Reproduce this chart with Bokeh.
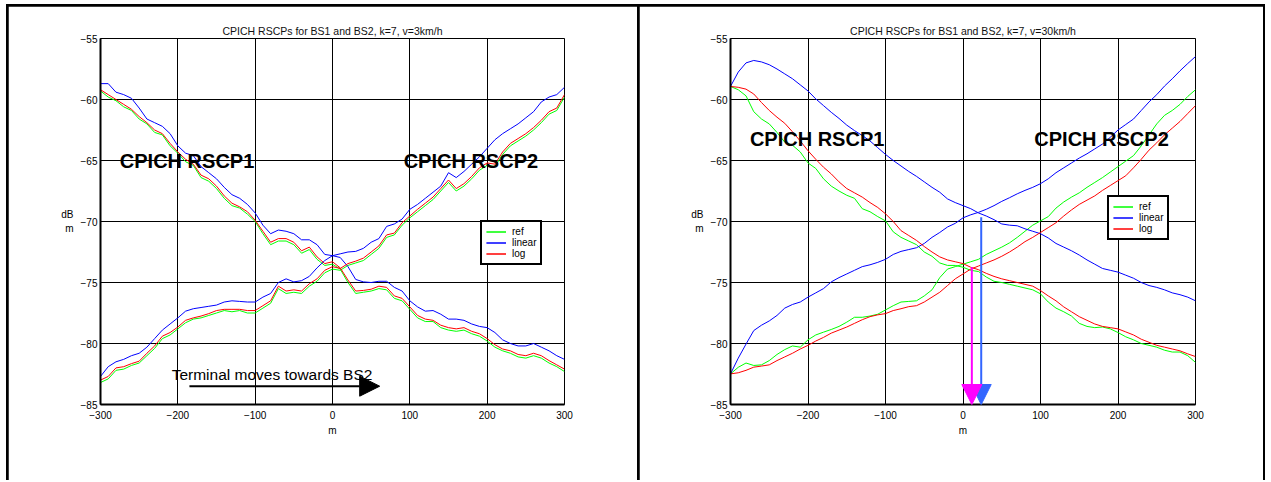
from bokeh.plotting import figure
from bokeh.layouts import row
from bokeh.models import FixedTicker, Label, Arrow, NormalHead, Legend, LegendItem, Range1d
from bokeh.embed import file_html
from bokeh.resources import INLINE

# ---------------- data ----------------
POS_M = list(range(-300, 301, 10))          # terminal position, m
X_TICKS = [-300, -200, -100, 0, 100, 200, 300]
Y_TICKS = [-85, -80, -75, -70, -65, -60, -55]

TITLE_3 = "CPICH RSCPs for BS1 and BS2, k=7, v=3km/h"
TITLE_30 = "CPICH RSCPs for BS1 and BS2, k=7, v=30km/h"
SERIES = ["ref", "linear", "log"]

# v = 3 km/h : RSCP1 (BS1, falling)
V3_RSCP1_REF = [
    -59.3, -59.8, -60.1, -60.6, -60.9, -61.6, -62.0, -62.7, -62.9, -63.8,
    -64.4, -65.1, -65.4, -66.4, -66.7, -67.3, -68.1, -68.7, -68.9, -69.4,
    -70.0, -71.0, -71.9, -71.6, -71.6, -71.9, -72.6, -72.3, -73.1, -73.6,
    -73.5, -73.9, -75.0, -75.9, -75.8, -75.7, -75.5, -75.6, -76.3, -76.5,
    -77.2, -77.9, -78.2, -78.2, -78.7, -78.9, -79.0, -78.9, -79.2, -79.4,
    -79.8, -80.3, -80.6, -80.8, -81.1, -81.2, -81.0, -81.2, -81.6, -81.9,
    -82.3]
V3_RSCP1_LIN = [
    -58.7, -58.7, -59.4, -59.6, -59.9, -60.7, -61.6, -61.9, -62.2, -62.8,
    -63.8, -64.4, -64.6, -65.5, -66.0, -66.5, -67.2, -67.8, -68.1, -68.6,
    -69.3, -70.3, -71.0, -70.7, -70.8, -71.0, -71.5, -71.5, -71.9, -72.7,
    -72.8, -72.95, -73.7, -74.75, -74.95, -75.0, -74.9, -74.9, -75.4, -75.7,
    -76.5, -77.0, -77.35, -77.3, -77.6, -78.0, -78.0, -78.1, -78.4, -78.6,
    -78.7, -79.1, -79.7, -80.0, -80.2, -80.2, -80.0, -80.3, -80.6, -81.0,
    -81.3]
V3_RSCP1_LOG = [
    -59.2, -59.6, -60.0, -60.4, -60.8, -61.4, -61.9, -62.5, -62.8, -63.6,
    -64.3, -64.9, -65.3, -66.2, -66.5, -67.1, -67.9, -68.5, -68.8, -69.2,
    -69.9, -70.8, -71.7, -71.4, -71.4, -71.7, -72.4, -72.1, -72.9, -73.45,
    -73.3, -73.8, -74.8, -75.7, -75.65, -75.55, -75.3, -75.4, -76.1, -76.3,
    -77.0, -77.7, -78.0, -78.1, -78.5, -78.7, -78.8, -78.7, -79.0, -79.2,
    -79.6, -80.1, -80.45, -80.6, -80.9, -81.0, -80.8, -81.0, -81.4, -81.75,
    -82.1]
# v = 3 km/h : RSCP2 (BS2, rising)
V3_RSCP2_REF = [
    -83.2, -82.9, -82.2, -82.1, -81.8, -81.6, -81.0, -80.4, -79.6, -79.3,
    -78.8, -78.3, -78.0, -77.9, -77.7, -77.5, -77.3, -77.4, -77.3, -77.5,
    -77.5, -77.1, -76.7, -75.5, -75.9, -75.8, -75.9, -75.3, -74.9, -74.2,
    -73.9, -74.0, -73.6, -73.4, -73.2, -72.7, -72.2, -71.3, -71.1, -70.3,
    -69.7, -69.2, -68.7, -68.2, -67.5, -66.8, -67.5, -67.1, -66.5, -65.8,
    -65.4, -65.5, -64.5, -63.8, -63.4, -63.0, -62.5, -61.9, -61.2, -60.9,
    -59.8]
V3_RSCP2_LIN = [
    -82.7, -81.9, -81.5, -81.3, -81.0, -80.8, -80.3, -79.6, -78.9, -78.4,
    -77.9, -77.35, -77.15, -77.05, -76.95, -76.85, -76.6, -76.5, -76.55, -76.6,
    -76.6, -76.2, -75.9, -75.0, -74.7, -74.95, -74.85, -74.5, -73.8, -73.2,
    -72.8, -72.65, -72.5, -72.45, -72.2, -71.7, -71.4, -70.4, -70.2, -69.8,
    -69.0, -68.6, -68.1, -67.6, -67.1, -66.0, -66.4, -65.9, -65.3, -64.7,
    -64.0, -63.3, -62.8, -62.4, -62.0, -61.5, -61.0, -60.2, -59.8, -59.6,
    -59.0]
V3_RSCP2_LOG = [
    -83.0, -82.7, -82.0, -81.9, -81.65, -81.45, -80.8, -80.2, -79.4, -79.1,
    -78.65, -78.1, -77.9, -77.75, -77.55, -77.3, -77.2, -77.2, -77.2, -77.3,
    -77.3, -76.9, -76.5, -75.3, -75.7, -75.6, -75.7, -75.1, -74.7, -74.0,
    -73.7, -73.85, -73.45, -73.25, -73.0, -72.5, -72.0, -71.1, -70.95, -70.1,
    -69.55, -69.0, -68.5, -68.0, -67.3, -66.6, -67.3, -66.9, -66.3, -65.6,
    -65.2, -65.3, -64.3, -63.6, -63.2, -62.8, -62.3, -61.7, -61.0, -60.7,
    -59.6]

# v = 30 km/h : RSCP1
V30_RSCP1_REF = [
    -58.93, -59.2, -59.7, -61.0, -61.6, -62.0, -62.7, -63.5, -63.75, -64.3,
    -65.2, -65.65, -66.5, -67.1, -67.5, -67.85, -68.1, -68.95, -69.2, -69.6,
    -69.95, -70.85, -71.3, -71.6, -71.9, -72.5, -72.85, -73.4, -73.6, -73.6,
    -73.75, -74.0, -74.1, -74.55, -74.9, -75.0, -75.15, -75.3, -75.45, -75.6,
    -75.93, -76.6, -77.1, -77.4, -77.75, -78.35, -78.6, -78.7, -78.65, -78.8,
    -79.1, -79.45, -79.7, -80.0, -80.15, -80.3, -80.55, -80.7, -80.7, -81.0,
    -81.55]
V30_RSCP1_LIN = [
    -58.93, -57.75, -57.0, -56.8, -56.92, -57.15, -57.5, -57.9, -58.3, -58.8,
    -59.3, -59.95, -60.5, -61.05, -61.55, -62.1, -62.55, -62.95, -63.4, -63.95,
    -64.5, -65.0, -65.45, -65.9, -66.3, -66.75, -67.2, -67.6, -68.15, -68.45,
    -68.7, -68.95, -69.3, -69.55, -69.85, -70.2, -70.3, -70.35, -70.6, -70.8,
    -71.0, -71.35, -71.8, -72.1, -72.4, -72.75, -73.15, -73.5, -73.85, -74.0,
    -74.15, -74.4, -74.65, -75.0, -75.25, -75.4, -75.6, -75.85, -76.0, -76.2,
    -76.5]
V30_RSCP1_LOG = [
    -58.93, -59.0, -59.15, -59.55, -60.25, -60.9, -61.45, -61.95, -62.65, -63.4,
    -64.2, -64.9, -65.55, -66.1, -66.75, -67.3, -67.65, -68.0, -68.45, -68.85,
    -69.37, -70.0, -70.75, -71.15, -71.55, -72.05, -72.5, -72.9, -73.15, -73.3,
    -73.45, -73.75, -73.95, -74.25, -74.5, -74.7, -74.85, -75.0, -75.15, -75.3,
    -75.66, -76.1, -76.5, -77.0, -77.4, -77.8, -78.1, -78.4, -78.6, -78.7,
    -78.8, -79.05, -79.3, -79.65, -79.9, -80.15, -80.3, -80.45, -80.6, -80.85,
    -81.07]
# v = 30 km/h : RSCP2
V30_RSCP2_REF = [
    -82.49, -81.95, -81.6, -81.8, -81.75, -81.4, -80.9, -80.5, -80.2, -80.3,
    -79.7, -79.3, -79.07, -78.85, -78.6, -78.25, -77.85, -77.85, -77.75, -77.6,
    -77.25, -76.9, -76.6, -76.55, -76.5, -76.1, -75.6, -74.6, -73.9, -73.7,
    -73.5, -73.3, -73.1, -72.7, -72.4, -72.1, -71.75, -71.3, -70.8, -70.3,
    -69.95, -69.6, -68.9, -68.4, -68.0, -67.65, -67.2, -66.8, -66.4, -65.95,
    -65.5, -65.05, -64.6, -63.8, -62.9, -62.0, -61.3, -60.9, -60.4, -59.75,
    -59.2]
V30_RSCP2_LIN = [
    -82.49, -81.2, -80.05, -78.94, -78.5, -78.15, -77.7, -77.1, -76.8, -76.6,
    -76.2, -75.85, -75.5, -74.95, -74.6, -74.3, -74.0, -73.7, -73.55, -73.35,
    -73.1, -72.7, -72.45, -72.3, -72.15, -71.8, -71.3, -70.9, -70.45, -70.15,
    -69.7, -69.45, -69.25, -69.0, -68.7, -68.35, -68.05, -67.73, -67.45, -67.2,
    -66.9, -66.5, -66.0, -65.6, -65.2, -64.8, -64.45, -64.05, -63.65, -63.1,
    -62.5, -62.05, -61.6, -60.9, -60.2, -59.6, -58.9, -58.3, -57.65, -57.05,
    -56.48]
V30_RSCP2_LOG = [
    -82.49, -82.4, -82.2, -81.94, -81.85, -81.75, -81.4, -81.1, -80.8, -80.45,
    -80.15, -79.8, -79.5, -79.15, -78.9, -78.65, -78.35, -78.05, -77.8, -77.65,
    -77.55, -77.3, -77.15, -76.98, -76.9, -76.6, -76.2, -75.8, -75.25, -74.7,
    -74.3, -73.9, -73.65, -73.4, -73.15, -72.85, -72.5, -72.1, -71.65, -71.3,
    -70.9, -70.5, -70.1, -69.55, -69.05, -68.6, -68.25, -67.9, -67.45, -67.05,
    -66.65, -66.25, -65.6, -64.9, -64.15, -63.55, -62.9, -62.35, -61.8, -61.15,
    -60.5]

# handover markers on the 30 km/h panel (position m, start level dBm)
MARK_LOG = (11.4, -73.75)
MARK_LIN = (23.5, -69.65)

# ---------------- styling ----------------
FONT = "Liberation Sans"
COLORS = {"ref": "#00FF00", "linear": "#0000FF", "log": "#FF0000"}


def panel(title, width, bl, br, rscp1, rscp2, leg_loc, big_y):
    p = figure(width=width, height=474, x_range=Range1d(-300, 300),
               y_range=Range1d(-85, -55), output_backend="svg",
               toolbar_location=None, min_border_left=bl, min_border_right=br,
               min_border_top=32, min_border_bottom=76, title=title)
    p.title.align = "center"
    p.title.text_font = FONT
    p.title.text_font_size = "10.5px"
    p.title.text_font_style = "normal"
    p.title.text_color = "#111111"
    p.title.standoff = 4
    p.background_fill_color = "white"
    p.border_fill_color = "white"
    p.outline_line_color = "black"
    p.outline_line_width = 1
    p.xaxis.ticker = FixedTicker(ticks=X_TICKS)
    p.yaxis.ticker = FixedTicker(ticks=Y_TICKS)
    for ax in p.axis:
        ax.axis_line_width = 2
        ax.axis_line_color = "black"
        ax.major_tick_in = 0
        ax.major_tick_out = 0
        ax.minor_tick_in = 0
        ax.minor_tick_out = 0
        ax.major_label_text_font = FONT
        ax.major_label_text_font_size = "10px"
        ax.major_label_text_color = "black"
        ax.axis_label_text_font = FONT
        ax.axis_label_text_font_size = "10px"
        ax.axis_label_text_font_style = "normal"
        ax.axis_label_text_color = "black"
    p.yaxis.major_label_standoff = 3
    p.xaxis.major_label_standoff = 6
    p.xaxis.axis_label = "m"
    p.xaxis.axis_label_standoff = 3
    p.yaxis.axis_label = "dB\nm"
    p.yaxis.axis_label_orientation = "horizontal"
    p.yaxis.axis_label_standoff = 4
    p.grid.grid_line_color = "black"
    p.grid.grid_line_alpha = 1
    p.grid.grid_line_width = 1

    rends = {k: [] for k in SERIES}
    for k in SERIES:
        for ys in (rscp1[k], rscp2[k]):
            rends[k].append(p.line(POS_M, ys, line_color=COLORS[k], line_width=1))

    legend = Legend(items=[LegendItem(label=k, renderers=rends[k]) for k in SERIES],
                    location=leg_loc, orientation="vertical")
    legend.border_line_color = "black"
    legend.border_line_alpha = 1
    legend.border_line_width = 2
    legend.background_fill_color = "white"
    legend.background_fill_alpha = 1
    legend.padding = 4
    legend.margin = 0
    legend.spacing = 0
    legend.label_height = 11
    legend.glyph_height = 11
    legend.glyph_width = 20
    legend.label_standoff = 6
    legend.label_text_font = FONT
    legend.label_text_font_size = "10px"
    legend.label_text_color = "black"
    p.add_layout(legend)

    for txt, xx in (("CPICH RSCP1", -275), ("CPICH RSCP2", 92)):
        p.add_layout(Label(x=xx, y=big_y, text=txt, text_font=FONT,
                           text_font_size="20px", text_font_style="bold",
                           text_baseline="alphabetic", text_align="left",
                           text_color="black"))
    return p


p1 = panel(TITLE_3, 629, 92, 73,
           {"ref": V3_RSCP1_REF, "linear": V3_RSCP1_LIN, "log": V3_RSCP1_LOG},
           {"ref": V3_RSCP2_REF, "linear": V3_RSCP2_LIN, "log": V3_RSCP2_LOG},
           (380, 139), -65.0)
p1.add_layout(Label(x=-208, y=-82.55, text="Terminal moves towards BS2",
                    text_font=FONT, text_font_size="15.5px",
                    text_baseline="alphabetic", text_align="left",
                    text_color="black"))
p1.add_layout(Arrow(x_start=-185, y_start=-83.5, x_end=61, y_end=-83.5,
                    line_color="black", line_width=2,
                    end=NormalHead(size=20, fill_color="black", line_color="black")))

p2 = panel(TITLE_30, 624, 91, 68,
           {"ref": V30_RSCP1_REF, "linear": V30_RSCP1_LIN, "log": V30_RSCP1_LOG},
           {"ref": V30_RSCP2_REF, "linear": V30_RSCP2_LIN, "log": V30_RSCP2_LOG},
           (377, 164), -63.2)
p2.add_layout(Arrow(x_start=MARK_LIN[0], y_start=MARK_LIN[1], x_end=MARK_LIN[0], y_end=-85,
                    line_color="#3366FF", line_width=2,
                    end=NormalHead(size=20, fill_color="#3366FF", line_color="#3366FF")))
p2.add_layout(Arrow(x_start=MARK_LOG[0], y_start=MARK_LOG[1], x_end=MARK_LOG[0], y_end=-85,
                    line_color="#FF00FF", line_width=2,
                    end=NormalHead(size=20, fill_color="#FF00FF", line_color="#FF00FF")))

layout = row(p1, p2, spacing=2,
             styles={"background-color": "black", "padding": "2px 2px 0px 2px",
                     "margin-left": "6px", "margin-top": "4px"})

open("out.html", "w").write(file_html(layout, INLINE))
